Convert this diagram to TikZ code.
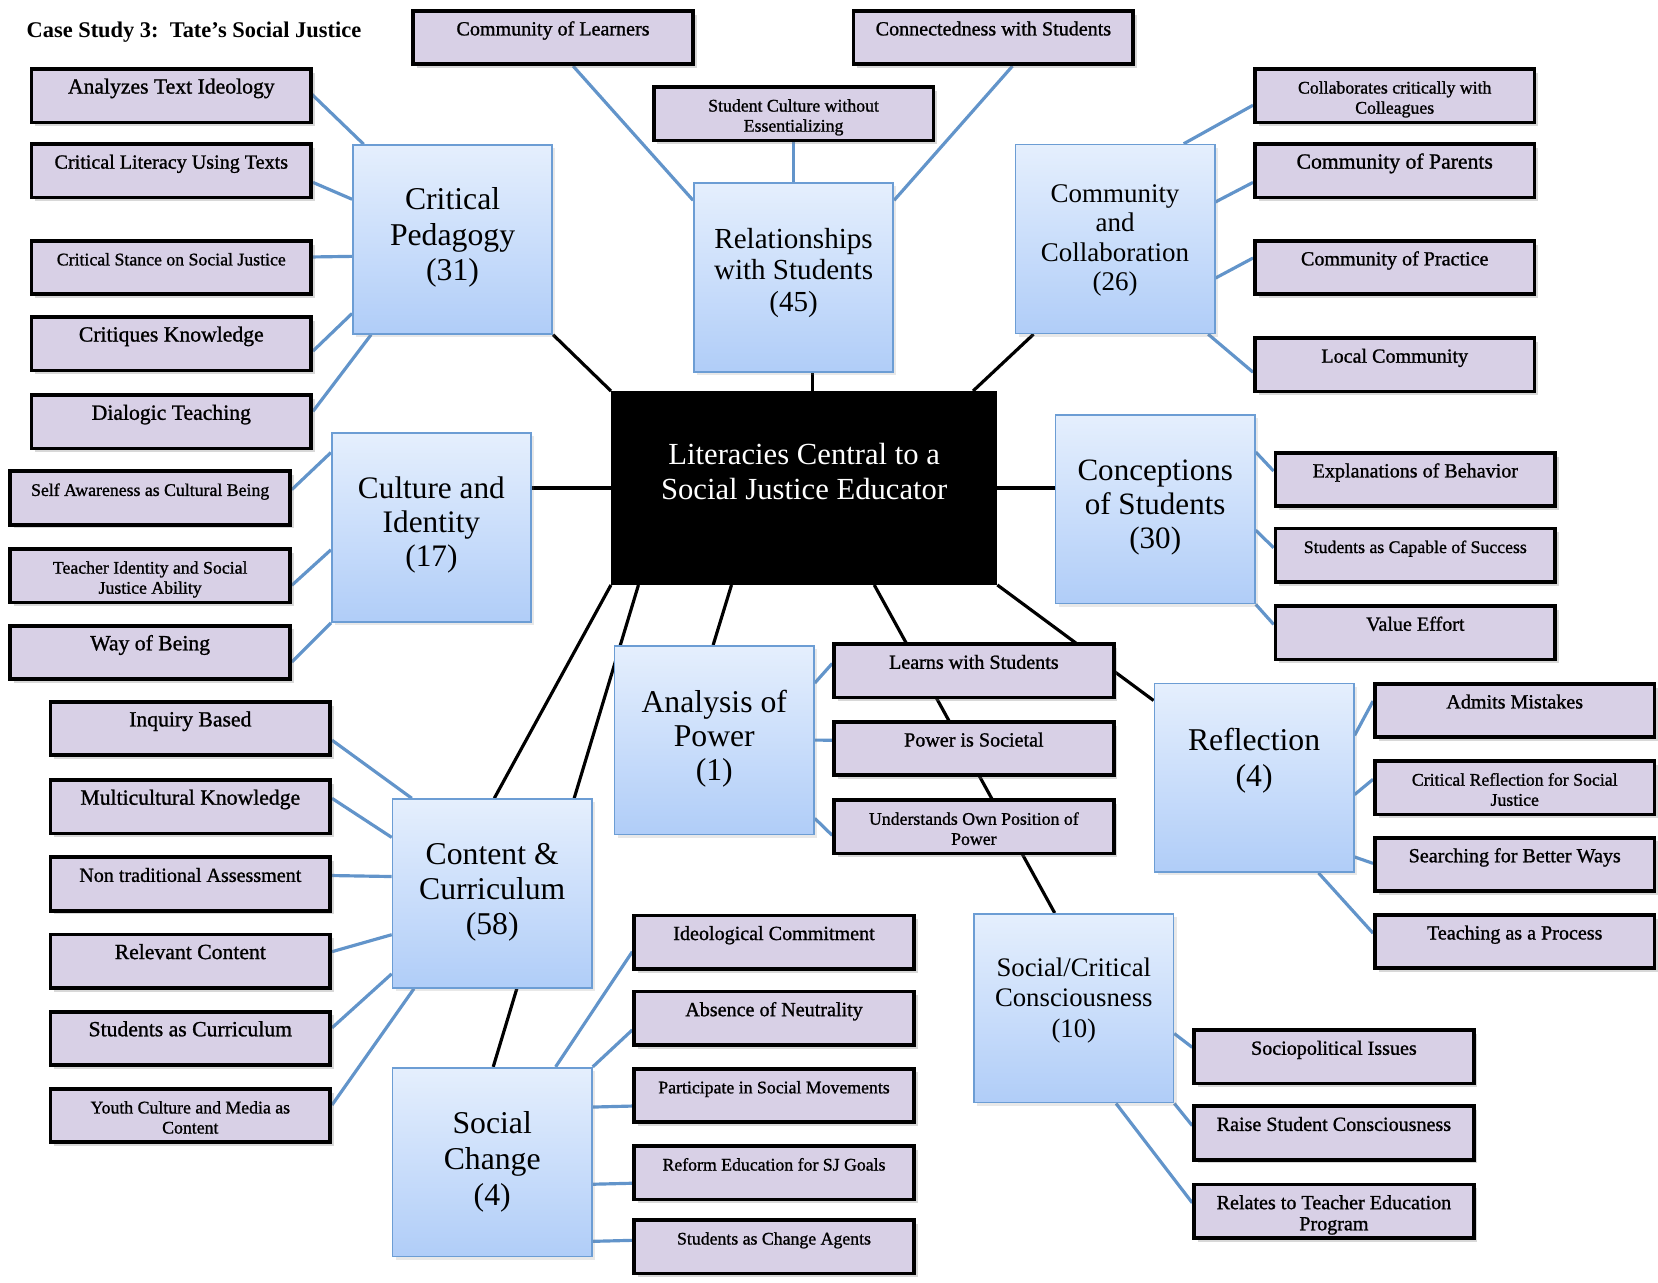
\documentclass[tikz,border=0pt]{standalone}
\usepackage{fontspec}
\setmainfont{Liberation Serif}
\newfontfamily\leaffont[FakeBold=1.1]{Liberation Serif}
\usetikzlibrary{calc,shadows,backgrounds}
\definecolor{leafFill}{RGB}{216,208,230}
\definecolor{catTop}{RGB}{229,239,253}
\definecolor{catBot}{RGB}{176,205,248}
\definecolor{catLine}{RGB}{108,157,212}
\definecolor{linkBlue}{RGB}{98,148,202}
\tikzset{
  leafbox/.style={draw=black, line width=3.5pt, fill=leafFill, minimum width=264.5pt, minimum height=50.5pt, inner sep=0pt,
    drop shadow={shadow xshift=3.5pt, shadow yshift=-3.5pt, opacity=0.3}},
  leaftext/.style={anchor=base, inner sep=0pt, text=black},
  leafL/.style={font=\leaffont\fontsize{20.5}{22}\selectfont},
  leafM/.style={font=\leaffont\fontsize{19}{20}\selectfont},
  leafS/.style={font=\leaffont\fontsize{16.8}{19}\selectfont},
  catbox/.style={draw=catLine, line width=1.6pt, top color=catTop, bottom color=catBot, minimum width=188.5pt, minimum height=178.5pt, inner sep=0pt,
    drop shadow={shadow xshift=3pt, shadow yshift=-3pt, opacity=0.18}},
  cattext/.style={align=center, inner sep=0pt, text=black},
  catL/.style={font=\fontsize{30}{33.5}\selectfont},
  hubbox/.style={fill=black, minimum width=365pt, minimum height=183pt, inner sep=0pt},
  hublink/.style={draw=black, line width=3pt},
  leaflink/.style={draw=linkBlue, line width=3pt},
}
\newcommand{\mkleaf}[5]{%
  \node[leafbox] (#1) at (#2,#3) {};
  \node[leaftext,#4] (#1t) at ($(#1.north)+(0,25)$) {\parbox[t]{256pt}{\centering #5}};
}
\begin{document}
\begin{tikzpicture}[x=1pt,y=-1pt]
\useasboundingbox (0,0) rectangle (1568,1213);

\node[anchor=base west, inner sep=0pt, font=\bfseries\fontsize{21.2}{24}\selectfont] (title) at (25,35) {Case Study 3:\ \ Tate's Social Justice};

% hub
\node[hubbox] (C) at (760.5,461.5) {};
\node[cattext, text=white, font=\fontsize{29}{33}\selectfont] (Ct) at (760.5,445.5) {Literacies Central to a\\Social Justice Educator};

% categories
\node[catbox] (CP) at (428,226.5) {};
\node[cattext, catL] (CPt) at (428,224.5) {Critical\\Pedagogy\\(31)};
\node[catbox] (RS) at (750.5,262.5) {};
\node[cattext, font=\fontsize{27.5}{30}\selectfont] (RSt) at (750.5,258) {Relationships\\with Students\\(45)};
\node[catbox] (CC) at (1054.5,226) {};
\node[cattext, font=\fontsize{25.5}{27.7}\selectfont] (CCt) at (1054.5,227.5) {Community\\and\\Collaboration\\(26)};
\node[catbox] (CS) at (1092.5,481.5) {};
\node[cattext, font=\fontsize{29.4}{32}\selectfont] (CSt) at (1092.5,480) {Conceptions\\of Students\\(30)};
\node[catbox] (CI) at (408,499) {};
\node[cattext, font=\fontsize{29.6}{32.5}\selectfont] (CIt) at (408,496.5) {Culture and\\Identity\\(17)};
\node[catbox] (AP) at (675.5,700) {};
\node[cattext, font=\fontsize{30}{32.5}\selectfont] (APt) at (675.5,698.5) {Analysis of\\Power\\(1)};
\node[catbox] (RF) at (1186,735.5) {};
\node[cattext, font=\fontsize{30}{34}\selectfont] (RFt) at (1186,719) {Reflection\\(4)};
\node[catbox] (CCu) at (465.5,845) {};
\node[cattext, font=\fontsize{30}{33}\selectfont] (CCut) at (465.5,844) {Content \&\\Curriculum\\(58)};
\node[catbox] (SC) at (465.5,1099) {};
\node[cattext, font=\fontsize{30}{34}\selectfont] (SCt) at (465.5,1099) {Social\\Change\\(4)};
\node[catbox] (SCC) at (1015.5,953.5) {};
\node[cattext, font=\fontsize{25.3}{29}\selectfont] (SCCt) at (1015.5,946) {Social/Critical\\Consciousness\\(10)};

% leaves
\mkleaf{ATI}{162}{90.5}{leafL}{Analyzes Text Ideology}
\mkleaf{CLT}{162}{161.5}{leafM}{Critical Literacy Using Texts}
\mkleaf{CSS}{162}{253}{leafS}{Critical Stance on Social Justice}
\mkleaf{CK}{162}{325}{leafL}{Critiques Knowledge}
\mkleaf{DT}{162}{399}{leafL}{Dialogic Teaching}
\mkleaf{SA}{142}{471}{leafS}{Self Awareness as Cultural Being}
\mkleaf{TI}{142}{544.5}{leafS}{Teacher Identity and Social\\Justice Ability}
\mkleaf{WB}{142}{617}{leafL}{Way of Being}
\mkleaf{IB}{180}{689}{leafL}{Inquiry Based}
\mkleaf{MK}{180}{763}{leafL}{Multicultural Knowledge}
\mkleaf{NT}{180}{836}{leafM}{Non traditional Assessment}
\mkleaf{RC}{180}{909}{leafL}{Relevant Content}
\mkleaf{SAC}{180}{982}{leafL}{Students as Curriculum}
\mkleaf{YC}{180}{1055}{leafS}{Youth Culture and Media as\\Content}
\mkleaf{IC}{732}{891}{leafM}{Ideological Commitment}
\mkleaf{AN}{732}{963}{leafM}{Absence of Neutrality}
\mkleaf{PSM}{732}{1036}{leafS}{Participate in Social Movements}
\mkleaf{RE}{732}{1109}{leafS}{Reform Education for SJ Goals}
\mkleaf{SCA}{732}{1179}{leafS}{Students as Change Agents}
\mkleaf{CL}{523}{35.5}{leafM}{Community of Learners}
\mkleaf{CWS}{939.5}{35.5}{leafM}{Connectedness with Students}
\mkleaf{SCE}{750.5}{107.5}{leafS}{Student Culture without\\Essentializing}
\mkleaf{LWS}{921}{634.5}{leafM}{Learns with Students}
\mkleaf{PIS}{921}{708}{leafM}{Power is Societal}
\mkleaf{UOP}{921}{782}{leafS}{Understands Own Position of\\Power}
\mkleaf{SI}{1261.5}{999.5}{leafM}{Sociopolitical Issues}
\mkleaf{RSC}{1261.5}{1071.5}{leafM}{Raise Student Consciousness}
\mkleaf{RTE}{1261.5}{1145.5}{leafM}{Relates to Teacher Education\\Program}
\mkleaf{CCC}{1319}{90.5}{leafS}{Collaborates critically with\\Colleagues}
\mkleaf{COP}{1319}{161.5}{leafL}{Community of Parents}
\mkleaf{CPr}{1319}{253}{leafM}{Community of Practice}
\mkleaf{LC}{1319}{345}{leafM}{Local Community}
\mkleaf{EB}{1338.5}{453.5}{leafM}{Explanations of Behavior}
\mkleaf{SCS}{1338.5}{525}{leafS}{Students as Capable of Success}
\mkleaf{VE}{1338.5}{598.5}{leafM}{Value Effort}
\mkleaf{AM}{1432.5}{672}{leafM}{Admits Mistakes}
\mkleaf{CRS}{1432.5}{745}{leafS}{Critical Reflection for Social\\Justice}
\mkleaf{SBW}{1432.5}{817.5}{leafM}{Searching for Better Ways}
\mkleaf{TP}{1432.5}{890.5}{leafM}{Teaching as a Process}

\begin{scope}[on background layer]
\fill[white] (0,0) rectangle (1568,1213);
% hub links
\draw[hublink] (C.north west) -- (CP.south east);
\draw[hublink] ([xshift=17.5pt]RS.south) -- ([xshift=7.5pt]C.north);
\draw[hublink] ([xshift=-23pt]C.north east) -- ([xshift=18pt]CC.south west);
\draw[hublink] (C.west) -- (C.west -| CI.east);
\draw[hublink] (C.east) -- (C.east -| CS.west);
\draw[hublink] (C.south west) -- ([xshift=97pt]CCu.north west);
\draw[hublink] ([xshift=26pt]C.south west) -- ([xshift=96pt]SC.north west);
\draw[hublink] ([xshift=114pt]C.south west) -- ([xshift=94pt]AP.north west);
\draw[hublink] ([xshift=249pt]C.south west) -- ([xshift=77pt]SCC.north west);
\draw[hublink] (C.south east) -- ([yshift=-17pt]RF.north west);
% critical pedagogy
\draw[leaflink] ($(ATI.north east)+(-8,19)$) -- ($(CP.north west)+(11,0)$);
\draw[leaflink] ($(CLT.north east)+(0,38)$) -- ($(CP.north west)+(0,52)$);
\draw[leaflink] ($(CSS.north east)+(0,17)$) -- ($(CP.north west)+(0,106)$);
\draw[leaflink] ($(CK.north east)+(0,34)$) -- ($(CP.north west)+(0,160)$);
\draw[leaflink] ($(DT.north east)+(0,17)$) -- ($(CP.south west)+(18,0)$);
% culture and identity
\draw[leaflink] ($(SA.north east)+(0,19)$) -- ($(CI.north west)+(0,19)$);
\draw[leaflink] ($(TI.north east)+(0,36)$) -- ($(CI.north west)+(0,111)$);
\draw[leaflink] ($(WB.north east)+(0,36)$) -- (CI.south west);
% content and curriculum
\draw[leaflink] ($(IB.north east)+(0,38)$) -- ($(CCu.north west)+(19,0)$);
\draw[leaflink] ($(MK.north east)+(0,19)$) -- ($(CCu.north west)+(0,37)$);
\draw[leaflink] ($(NT.north east)+(0,19)$) -- ($(CCu.north west)+(0,74)$);
\draw[leaflink] ($(RC.north east)+(0,18)$) -- ($(CCu.north west)+(0,129)$);
\draw[leaflink] ($(SAC.north east)+(0,17)$) -- ($(CCu.north west)+(0,166)$);
\draw[leaflink] ($(YC.north east)+(0,17)$) -- ($(CCu.south west)+(21,0)$);
% social change
\draw[leaflink] ($(SC.north west)+(155,0)$) -- ($(IC.north west)+(0,36)$);
\draw[leaflink] (SC.north east) -- ($(AN.north west)+(0,38)$);
\draw[leaflink] ($(SC.north east)+(0,38)$) -- ($(PSM.north west)+(0,37)$);
\draw[leaflink] ($(SC.north east)+(0,111)$) -- ($(RE.north west)+(0,37)$);
\draw[leaflink] ($(SC.north east)+(0,165)$) -- ($(SCA.north west)+(0,21)$);
% analysis of power
\draw[leaflink] ($(AP.north east)+(0,36)$) -- ($(LWS.north west)+(0,20)$);
\draw[leaflink] ($(AP.north east)+(0,90)$) -- ($(PIS.north west)+(0,19)$);
\draw[leaflink] ($(AP.north east)+(0,164)$) -- ($(UOP.north west)+(0,35)$);
% social/critical consciousness
\draw[leaflink] ($(SCC.north east)+(0,114)$) -- ($(SI.north west)+(0,18)$);
\draw[leaflink] (SCC.south east) -- ($(RSC.north west)+(0,20)$);
\draw[leaflink] ($(SCC.south west)+(135,0)$) -- ($(RTE.north west)+(0,19)$);
% community and collaboration
\draw[leaflink] ($(CC.north west)+(160,0)$) -- ($(CCC.north west)+(0,36)$);
\draw[leaflink] ($(CC.north east)+(0,55)$) -- ($(COP.north west)+(0,38)$);
\draw[leaflink] ($(CC.north east)+(0,127)$) -- ($(CPr.north west)+(0,18)$);
\draw[leaflink] ($(CC.south east)+(-7,0)$) -- ($(LC.north west)+(0,34)$);
% conceptions of students
\draw[leaflink] ($(CS.north east)+(0,36)$) -- ($(EB.north west)+(0,19)$);
\draw[leaflink] ($(CS.north east)+(0,110)$) -- ($(SCS.north west)+(0,20)$);
\draw[leaflink] (CS.south east) -- ($(VE.north west)+(0,19)$);
% reflection
\draw[leaflink] ($(RF.north east)+(0,50)$) -- ($(AM.north west)+(0,18)$);
\draw[leaflink] ($(RF.north east)+(0,106)$) -- ($(CRS.north west)+(0,19)$);
\draw[leaflink] ($(RF.north east)+(0,165)$) -- ($(SBW.north west)+(0,26)$);
\draw[leaflink] ($(RF.south west)+(156,0)$) -- ($(TP.north west)+(0,19)$);
% relationships with students
\draw[leaflink] ($(CL.south west)+(153,0)$) -- ($(RS.north west)+(0,17)$);
\draw[leaflink] (SCE.south) -- (RS.north);
\draw[leaflink] ($(CWS.south west)+(152,0)$) -- ($(RS.north east)+(0,17)$);
\end{scope}
\end{tikzpicture}
\end{document}
